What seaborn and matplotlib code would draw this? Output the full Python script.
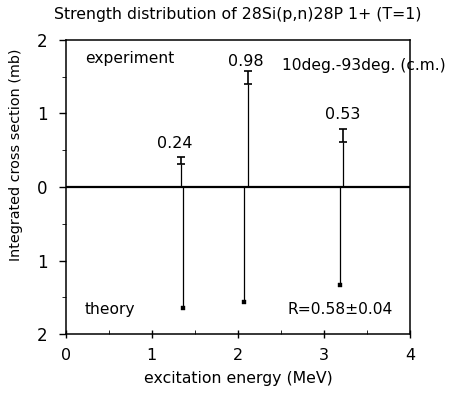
import numpy as np
import pandas as pd
import matplotlib
matplotlib.use('Agg')
import matplotlib.pyplot as plt
import seaborn as sns
from matplotlib.ticker import MultipleLocator, FuncFormatter

sns.set_style('ticks')
plt.rcParams['font.family'] = ['DejaVu Sans']
plt.rcParams.update({'text.color': 'black', 'axes.labelcolor': 'black',
                     'xtick.color': 'black', 'ytick.color': 'black'})

# experiment (upper half)
exp_energy = [1.34, 2.12, 3.22]
exp_strength = [0.36, 1.49, 0.70]
exp_err = [0.05, 0.09, 0.09]
exp_labels = ['0.24', '0.98', '0.53']
exp_label_x = [1.27, 2.09, 3.22]
exp_label_y = [0.585, 1.71, 0.99]

# theory (lower half, drawn downward)
th_energy = [1.36, 2.07, 3.19]
th_strength = [1.65, 1.56, 1.33]

exp = pd.DataFrame({'energy': exp_energy, 'strength': exp_strength, 'err': exp_err})
th = pd.DataFrame({'energy': th_energy, 'strength': [-v for v in th_strength]})

fig = plt.figure(figsize=(4.54, 3.95), dpi=100)
ax = fig.add_axes([0.145, 0.154, 0.758, 0.745])

# stems
ax.vlines(exp['energy'], 0, exp['strength'] - exp['err'], color='black', lw=0.9)
ax.vlines(th['energy'], 0, th['strength'], color='black', lw=0.9)
ax.errorbar(exp['energy'], exp['strength'], yerr=exp['err'], fmt='none',
            ecolor='black', elinewidth=1.2, capsize=3, capthick=1.2)
sns.scatterplot(data=th, x='energy', y='strength', marker='s', s=12,
                color='black', edgecolor='black', ax=ax, legend=False)

ax.axhline(0, color='black', lw=1.6)

for x, y, lab in zip(exp_label_x, exp_label_y, exp_labels):
    ax.text(x, y, lab, ha='center', va='center', fontsize=11.5)

ax.text(0.22, 1.75, 'experiment', fontsize=11.2, ha='left', va='center')
ax.text(2.51, 1.65, '10deg.-93deg. (c.m.)', fontsize=11.2, ha='left', va='center',
        clip_on=False)
ax.text(0.22, -1.67, 'theory', fontsize=11.2, ha='left', va='center')
ax.text(2.58, -1.67, 'R=0.58\u00b10.04', fontsize=11.2, ha='left', va='center')

ax.set_xlim(0, 4)
ax.set_ylim(-2, 2)
ax.xaxis.set_major_locator(MultipleLocator(1))
ax.xaxis.set_minor_locator(MultipleLocator(0.5))
ax.yaxis.set_major_locator(MultipleLocator(1))
ax.yaxis.set_minor_locator(MultipleLocator(0.5))
ax.yaxis.set_major_formatter(FuncFormatter(lambda v, p: f'{abs(v):.0f}'))
ax.tick_params(axis='x', which='major', direction='inout', length=6, width=1,
               labelsize=11.5, pad=7)
ax.tick_params(axis='x', which='minor', direction='in', length=3)
ax.tick_params(axis='y', which='major', direction='out', length=5, width=1,
               labelsize=12, pad=8)
ax.tick_params(axis='y', which='minor', direction='out', length=3)
for s in ax.spines.values():
    s.set_linewidth(1.1)
    s.set_color('black')

ax.set_xlabel('excitation energy (MeV)', fontsize=11.3, labelpad=6)
ax.set_ylabel('Integrated cross section (mb)', fontsize=10.4)
ax.yaxis.set_label_coords(-0.125, 0.61)
ax.set_title('Strength distribution of 28Si(p,n)28P 1+ (T=1)', fontsize=11.3, pad=15)

fig.savefig('out.png', dpi=100)
